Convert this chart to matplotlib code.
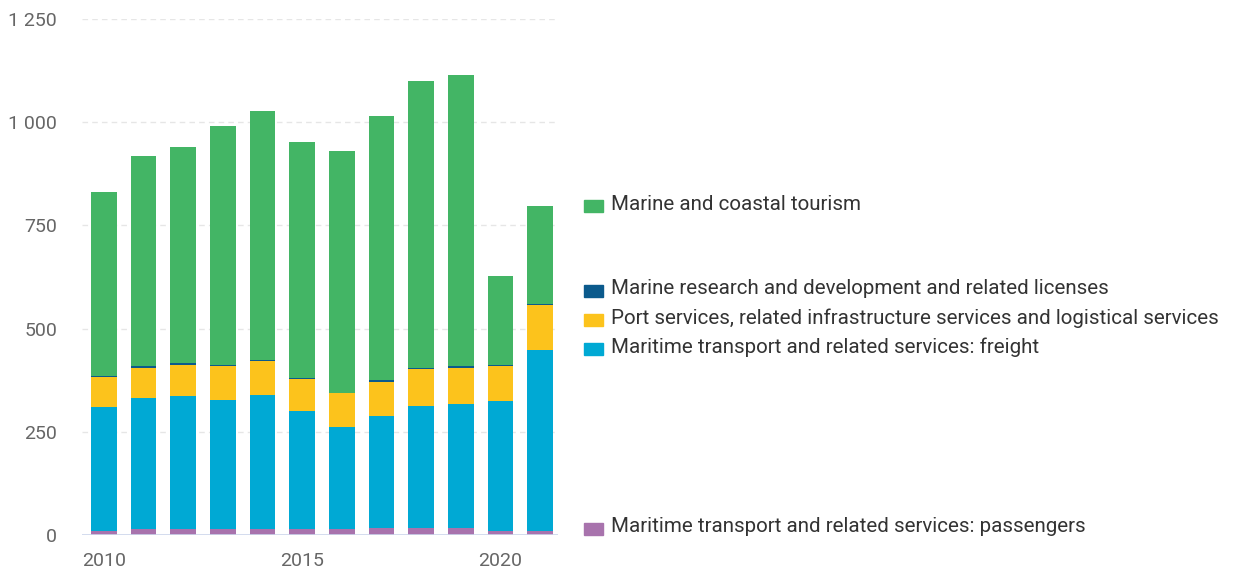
import numpy as np
import matplotlib.pyplot as plt
from matplotlib.patches import Rectangle
from matplotlib.ticker import FuncFormatter

plt.rcParams['font.family'] = ['Roboto', 'DejaVu Sans']

# data
years = list(range(2010, 2022))
passengers = [10, 15, 15, 15, 15, 15, 15, 18, 18, 18, 10, 10]
freight = [301, 316, 321, 312, 324, 285, 247, 270, 294, 299, 314, 437]
port = [72, 74, 76, 82, 82, 78, 82, 83, 90, 88, 85, 110]
research = [3, 4, 5, 3, 2, 3, 1, 4, 3, 4, 4, 3]
tourism = [445, 509, 523, 579, 604, 571, 585, 640, 695, 705, 214, 237]

series = [
    ("Maritime transport and related services: passengers", passengers, "#a873ad"),
    ("Maritime transport and related services: freight", freight, "#00a9d4"),
    ("Port services, related infrastructure services and logistical services", port, "#fcc31c"),
    ("Marine research and development and related licenses", research, "#0b5a8c"),
    ("Marine and coastal tourism", tourism, "#43b565"),
]

# label y positions in figure pixels (from top)
label_y = {
    "Marine and coastal tourism": 204,
    "Marine research and development and related licenses": 289,
    "Port services, related infrastructure services and logistical services": 318,
    "Maritime transport and related services: freight": 347,
    "Maritime transport and related services: passengers": 527,
}

W, H = 1238, 571
fig = plt.figure(figsize=(W / 100, H / 100), dpi=100)
ax = fig.add_axes([82 / W, 1 - 535 / H, (558 - 82) / W, (535 - 19) / H])

bottom = np.zeros(len(years))
for name, vals, col in series:
    ax.bar(years, vals, bottom=bottom, width=0.65, color=col, linewidth=0, zorder=3)
    bottom += np.array(vals)

ax.set_ylim(0, 1250)
ax.set_xlim(2009.45, 2021.45)
ax.set_yticks([0, 250, 500, 750, 1000, 1250])
ax.yaxis.set_major_formatter(FuncFormatter(lambda v, p: f"{int(v):,}".replace(",", " ")))
ax.set_xticks([2010, 2015, 2020])
ax.tick_params(axis='both', length=0, labelsize=14, colors="#666666")
ax.tick_params(axis='y', pad=18)
ax.tick_params(axis='x', pad=12)

for v in [250, 500, 750, 1000, 1250]:
    ax.axhline(v, color="#e6e6e6", lw=1, ls=(0, (4, 3)), zorder=1)
for s in ax.spines.values():
    s.set_visible(False)
ax.axhline(0, color="#ccd6eb", lw=1.2, zorder=4)

for name, vals, col in series:
    y = 1 - label_y[name] / H
    fig.patches.append(Rectangle((584 / W, y - 8 / H), 19 / W, 12 / H,
                                 transform=fig.transFigure, color=col))
    fig.text(611 / W, y, name, fontsize=14.8, color="#333333", va="center", ha="left")

fig.savefig("out.png", dpi=100)
